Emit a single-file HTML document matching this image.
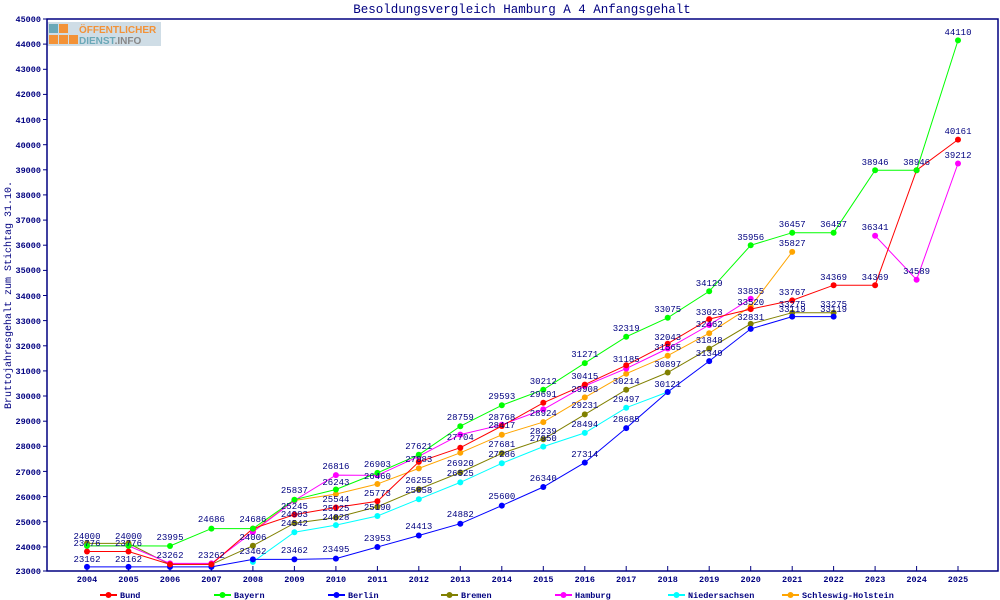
<!DOCTYPE html>
<html><head><meta charset="utf-8"><style>
body{margin:0;background:#fff}
svg{display:block}
text{font-family:"Liberation Mono","DejaVu Sans Mono",monospace;fill:#000080}
.l{font-size:9px;text-anchor:middle}
.t{font-size:8.5px;font-weight:bold}
</style></head><body>
<svg width="1000" height="600" viewBox="0 0 1000 600" xmlns="http://www.w3.org/2000/svg">
<rect width="1000" height="600" fill="#fff"/>
<text x="522" y="13" style="font-size:12.5px;text-anchor:middle">Besoldungsvergleich Hamburg A 4 Anfangsgehalt</text>
<text transform="translate(11,295) rotate(-90)" style="font-size:10px;text-anchor:middle">Bruttojahresgehalt zum Stichtag 31.10.</text>
<rect x="47" y="22" width="114" height="24" fill="#cfdde6"/>
<rect x="49" y="24" width="9" height="9" fill="#6aa8b8"/><rect x="59" y="24" width="9" height="9" fill="#f39237"/>
<rect x="49" y="35" width="9" height="9" fill="#f39237"/><rect x="59" y="35" width="9" height="9" fill="#f39237"/><rect x="69" y="35" width="9" height="9" fill="#f39237"/>
<text x="79" y="33" style="font-family:'Liberation Sans',sans-serif;font-size:10px;font-weight:bold;fill:#f39237">ÖFFENTLICHER</text>
<text x="79" y="44" style="font-family:'Liberation Sans',sans-serif;font-size:10px;font-weight:bold;fill:#6aa8b8">DIENST<tspan style="fill:#888">.INFO</tspan></text>
<rect x="47" y="19" width="951" height="552" fill="none" stroke="#000080" stroke-width="1.5"/>
<g stroke="#000080" stroke-width="1">
<line x1="43" y1="19" x2="47" y2="19"/><line x1="43" y1="44.1" x2="47" y2="44.1"/><line x1="43" y1="69.3" x2="47" y2="69.3"/><line x1="43" y1="94.4" x2="47" y2="94.4"/><line x1="43" y1="119.5" x2="47" y2="119.5"/><line x1="43" y1="144.7" x2="47" y2="144.7"/><line x1="43" y1="169.8" x2="47" y2="169.8"/><line x1="43" y1="194.9" x2="47" y2="194.9"/><line x1="43" y1="220.1" x2="47" y2="220.1"/><line x1="43" y1="245.2" x2="47" y2="245.2"/><line x1="43" y1="270.4" x2="47" y2="270.4"/><line x1="43" y1="295.5" x2="47" y2="295.5"/><line x1="43" y1="320.6" x2="47" y2="320.6"/><line x1="43" y1="345.8" x2="47" y2="345.8"/><line x1="43" y1="370.9" x2="47" y2="370.9"/><line x1="43" y1="396" x2="47" y2="396"/><line x1="43" y1="421.2" x2="47" y2="421.2"/><line x1="43" y1="446.3" x2="47" y2="446.3"/><line x1="43" y1="471.4" x2="47" y2="471.4"/><line x1="43" y1="496.6" x2="47" y2="496.6"/><line x1="43" y1="521.7" x2="47" y2="521.7"/><line x1="43" y1="546.9" x2="47" y2="546.9"/><line x1="43" y1="571" x2="47" y2="571"/>
<line x1="87" y1="566" x2="87" y2="571"/><line x1="128.5" y1="566" x2="128.5" y2="571"/><line x1="170" y1="566" x2="170" y2="571"/><line x1="211.4" y1="566" x2="211.4" y2="571"/><line x1="252.9" y1="566" x2="252.9" y2="571"/><line x1="294.4" y1="566" x2="294.4" y2="571"/><line x1="335.9" y1="566" x2="335.9" y2="571"/><line x1="377.4" y1="566" x2="377.4" y2="571"/><line x1="418.8" y1="566" x2="418.8" y2="571"/><line x1="460.3" y1="566" x2="460.3" y2="571"/><line x1="501.8" y1="566" x2="501.8" y2="571"/><line x1="543.3" y1="566" x2="543.3" y2="571"/><line x1="584.8" y1="566" x2="584.8" y2="571"/><line x1="626.2" y1="566" x2="626.2" y2="571"/><line x1="667.7" y1="566" x2="667.7" y2="571"/><line x1="709.2" y1="566" x2="709.2" y2="571"/><line x1="750.7" y1="566" x2="750.7" y2="571"/><line x1="792.2" y1="566" x2="792.2" y2="571"/><line x1="833.6" y1="566" x2="833.6" y2="571"/><line x1="875.1" y1="566" x2="875.1" y2="571"/><line x1="916.6" y1="566" x2="916.6" y2="571"/><line x1="958" y1="566" x2="958" y2="571"/>
</g>
<g text-anchor="end">
<text x="41" y="22" class="t">45000</text><text x="41" y="47" class="t">44000</text><text x="41" y="72" class="t">43000</text><text x="41" y="97" class="t">42000</text><text x="41" y="123" class="t">41000</text><text x="41" y="148" class="t">40000</text><text x="41" y="173" class="t">39000</text><text x="41" y="198" class="t">38000</text><text x="41" y="223" class="t">37000</text><text x="41" y="248" class="t">36000</text><text x="41" y="273" class="t">35000</text><text x="41" y="299" class="t">34000</text><text x="41" y="324" class="t">33000</text><text x="41" y="349" class="t">32000</text><text x="41" y="374" class="t">31000</text><text x="41" y="399" class="t">30000</text><text x="41" y="424" class="t">29000</text><text x="41" y="449" class="t">28000</text><text x="41" y="475" class="t">27000</text><text x="41" y="500" class="t">26000</text><text x="41" y="525" class="t">25000</text><text x="41" y="550" class="t">24000</text><text x="41" y="574" class="t">23000</text>
</g>
<g text-anchor="middle">
<text x="87" y="582" class="t">2004</text><text x="128.5" y="582" class="t">2005</text><text x="170" y="582" class="t">2006</text><text x="211.4" y="582" class="t">2007</text><text x="252.9" y="582" class="t">2008</text><text x="294.4" y="582" class="t">2009</text><text x="335.9" y="582" class="t">2010</text><text x="377.4" y="582" class="t">2011</text><text x="418.8" y="582" class="t">2012</text><text x="460.3" y="582" class="t">2013</text><text x="501.8" y="582" class="t">2014</text><text x="543.3" y="582" class="t">2015</text><text x="584.8" y="582" class="t">2016</text><text x="626.2" y="582" class="t">2017</text><text x="667.7" y="582" class="t">2018</text><text x="709.2" y="582" class="t">2019</text><text x="750.7" y="582" class="t">2020</text><text x="792.2" y="582" class="t">2021</text><text x="833.6" y="582" class="t">2022</text><text x="875.1" y="582" class="t">2023</text><text x="916.6" y="582" class="t">2024</text><text x="958" y="582" class="t">2025</text>
</g>
<g fill="none" stroke-width="1">
<polyline stroke="#00ffff" points="252.9,561.9 294.4,532.2 335.9,525.1 377.4,516 418.8,499.2 460.3,482.4 501.8,463.3 543.3,446.6 584.8,432.9 626.2,407.7 667.7,392"/>
<polyline stroke="#808000" points="87,543.4 128.5,543.4 170,564.4 211.4,564.4 252.9,545.7 294.4,523.2 335.9,517.6 377.4,506.7 418.8,489.2 460.3,472.5 501.8,453.3 543.3,439.3 584.8,414.4 626.2,389.7 667.7,372.5 709.2,348.6 750.7,323.9 792.2,312.7 833.6,312.7"/>
<polyline stroke="#0000ff" points="87,566.9 128.5,566.9 170,566.9 211.4,566.9 252.9,559.4 294.4,559.4 335.9,558.6 377.4,547 418.8,535.5 460.3,523.7 501.8,505.6 543.3,487 584.8,462.6 626.2,428.1 667.7,392 709.2,361.1 750.7,328.9 792.2,316.6 833.6,316.6"/>
<polyline stroke="#ffa500" points="252.9,530.8 294.4,500.5 335.9,494.1 377.4,484 418.8,468.4 460.3,452.8 501.8,434.8 543.3,422.1 584.8,397.4 626.2,373.7 667.7,355.7 709.2,333.2 750.7,306.6 792.2,251.9"/>
<polyline stroke="#ff00ff" points="87,545.9 128.5,545.9 170,563.4 211.4,563.4 252.9,532 294.4,500.5 335.9,475.1 377.4,475.4 418.8,456.3 460.3,434.6 501.8,424.8 543.3,409.4 584.8,385.9 626.2,368.6 667.7,348.5 709.2,325 750.7,298.7"/>
<polyline stroke="#ff00ff" points="875.1,235.7 916.6,279.7 958,163.5"/>
<polyline stroke="#ff0000" points="87,551.5 128.5,551.5 170,564.4 211.4,564.4 252.9,528.6 294.4,514.6 335.9,507.5 377.4,501.3 418.8,461.9 460.3,447.7 501.8,426 543.3,402.8 584.8,384.6 626.2,365.3 667.7,343.7 709.2,319.1 750.7,309.1 792.2,300.4 833.6,285.2 875.1,285.2 916.6,170.2 958,139.6"/>
<polyline stroke="#00ff00" points="87,545.9 128.5,545.9 170,546 211.4,528.6 252.9,528.6 294.4,499.7 335.9,489.5 377.4,472.9 418.8,454.8 460.3,426.2 501.8,405.3 543.3,389.7 584.8,363.1 626.2,336.8 667.7,317.8 709.2,291.3 750.7,245.3 792.2,232.7 833.6,232.7 875.1,170.2 916.6,170.2 958,40.4"/>
</g>
<g stroke="none">
<g fill="#00ffff"><circle cx="252.9" cy="561.9" r="3"/><circle cx="294.4" cy="532.2" r="3"/><circle cx="335.9" cy="525.1" r="3"/><circle cx="377.4" cy="516" r="3"/><circle cx="418.8" cy="499.2" r="3"/><circle cx="460.3" cy="482.4" r="3"/><circle cx="501.8" cy="463.3" r="3"/><circle cx="543.3" cy="446.6" r="3"/><circle cx="584.8" cy="432.9" r="3"/><circle cx="626.2" cy="407.7" r="3"/><circle cx="667.7" cy="392" r="3"/></g>
<g fill="#808000"><circle cx="87" cy="543.4" r="3"/><circle cx="128.5" cy="543.4" r="3"/><circle cx="170" cy="564.4" r="3"/><circle cx="211.4" cy="564.4" r="3"/><circle cx="252.9" cy="545.7" r="3"/><circle cx="294.4" cy="523.2" r="3"/><circle cx="335.9" cy="517.6" r="3"/><circle cx="377.4" cy="506.7" r="3"/><circle cx="418.8" cy="489.2" r="3"/><circle cx="460.3" cy="472.5" r="3"/><circle cx="501.8" cy="453.3" r="3"/><circle cx="543.3" cy="439.3" r="3"/><circle cx="584.8" cy="414.4" r="3"/><circle cx="626.2" cy="389.7" r="3"/><circle cx="667.7" cy="372.5" r="3"/><circle cx="709.2" cy="348.6" r="3"/><circle cx="750.7" cy="323.9" r="3"/><circle cx="792.2" cy="312.7" r="3"/><circle cx="833.6" cy="312.7" r="3"/></g>
<g fill="#0000ff"><circle cx="87" cy="566.9" r="3"/><circle cx="128.5" cy="566.9" r="3"/><circle cx="170" cy="566.9" r="3"/><circle cx="211.4" cy="566.9" r="3"/><circle cx="252.9" cy="559.4" r="3"/><circle cx="294.4" cy="559.4" r="3"/><circle cx="335.9" cy="558.6" r="3"/><circle cx="377.4" cy="547" r="3"/><circle cx="418.8" cy="535.5" r="3"/><circle cx="460.3" cy="523.7" r="3"/><circle cx="501.8" cy="505.6" r="3"/><circle cx="543.3" cy="487" r="3"/><circle cx="584.8" cy="462.6" r="3"/><circle cx="626.2" cy="428.1" r="3"/><circle cx="667.7" cy="392" r="3"/><circle cx="709.2" cy="361.1" r="3"/><circle cx="750.7" cy="328.9" r="3"/><circle cx="792.2" cy="316.6" r="3"/><circle cx="833.6" cy="316.6" r="3"/></g>
<g fill="#ffa500"><circle cx="252.9" cy="530.8" r="3"/><circle cx="294.4" cy="500.5" r="3"/><circle cx="335.9" cy="494.1" r="3"/><circle cx="377.4" cy="484" r="3"/><circle cx="418.8" cy="468.4" r="3"/><circle cx="460.3" cy="452.8" r="3"/><circle cx="501.8" cy="434.8" r="3"/><circle cx="543.3" cy="422.1" r="3"/><circle cx="584.8" cy="397.4" r="3"/><circle cx="626.2" cy="373.7" r="3"/><circle cx="667.7" cy="355.7" r="3"/><circle cx="709.2" cy="333.2" r="3"/><circle cx="750.7" cy="306.6" r="3"/><circle cx="792.2" cy="251.9" r="3"/></g>
<g fill="#ff00ff"><circle cx="87" cy="545.9" r="3"/><circle cx="128.5" cy="545.9" r="3"/><circle cx="170" cy="563.4" r="3"/><circle cx="211.4" cy="563.4" r="3"/><circle cx="252.9" cy="532" r="3"/><circle cx="294.4" cy="500.5" r="3"/><circle cx="335.9" cy="475.1" r="3"/><circle cx="377.4" cy="475.4" r="3"/><circle cx="418.8" cy="456.3" r="3"/><circle cx="460.3" cy="434.6" r="3"/><circle cx="501.8" cy="424.8" r="3"/><circle cx="543.3" cy="409.4" r="3"/><circle cx="584.8" cy="385.9" r="3"/><circle cx="626.2" cy="368.6" r="3"/><circle cx="667.7" cy="348.5" r="3"/><circle cx="709.2" cy="325" r="3"/><circle cx="750.7" cy="298.7" r="3"/><circle cx="875.1" cy="235.7" r="3"/><circle cx="916.6" cy="279.7" r="3"/><circle cx="958" cy="163.5" r="3"/></g>
<g fill="#ff0000"><circle cx="87" cy="551.5" r="3"/><circle cx="128.5" cy="551.5" r="3"/><circle cx="170" cy="564.4" r="3"/><circle cx="211.4" cy="564.4" r="3"/><circle cx="252.9" cy="528.6" r="3"/><circle cx="294.4" cy="514.6" r="3"/><circle cx="335.9" cy="507.5" r="3"/><circle cx="377.4" cy="501.3" r="3"/><circle cx="418.8" cy="461.9" r="3"/><circle cx="460.3" cy="447.7" r="3"/><circle cx="501.8" cy="426" r="3"/><circle cx="543.3" cy="402.8" r="3"/><circle cx="584.8" cy="384.6" r="3"/><circle cx="626.2" cy="365.3" r="3"/><circle cx="667.7" cy="343.7" r="3"/><circle cx="709.2" cy="319.1" r="3"/><circle cx="750.7" cy="309.1" r="3"/><circle cx="792.2" cy="300.4" r="3"/><circle cx="833.6" cy="285.2" r="3"/><circle cx="875.1" cy="285.2" r="3"/><circle cx="916.6" cy="170.2" r="3"/><circle cx="958" cy="139.6" r="3"/></g>
<g fill="#00ff00"><circle cx="87" cy="545.9" r="3"/><circle cx="128.5" cy="545.9" r="3"/><circle cx="170" cy="546" r="3"/><circle cx="211.4" cy="528.6" r="3"/><circle cx="252.9" cy="528.6" r="3"/><circle cx="294.4" cy="499.7" r="3"/><circle cx="335.9" cy="489.5" r="3"/><circle cx="377.4" cy="472.9" r="3"/><circle cx="418.8" cy="454.8" r="3"/><circle cx="460.3" cy="426.2" r="3"/><circle cx="501.8" cy="405.3" r="3"/><circle cx="543.3" cy="389.7" r="3"/><circle cx="584.8" cy="363.1" r="3"/><circle cx="626.2" cy="336.8" r="3"/><circle cx="667.7" cy="317.8" r="3"/><circle cx="709.2" cy="291.3" r="3"/><circle cx="750.7" cy="245.3" r="3"/><circle cx="792.2" cy="232.7" r="3"/><circle cx="833.6" cy="232.7" r="3"/><circle cx="875.1" cy="170.2" r="3"/><circle cx="916.6" cy="170.2" r="3"/><circle cx="958" cy="40.4" r="3"/></g>
</g>
<g>
<text x="87" y="539" class="l">24000</text><text x="87" y="546" class="l">23776</text><text x="87" y="562" class="l">23162</text>
<text x="128.5" y="539" class="l">24000</text><text x="128.5" y="546" class="l">23776</text><text x="128.5" y="562" class="l">23162</text>
<text x="170" y="540" class="l">23995</text><text x="170" y="558" class="l">23262</text><text x="211.4" y="522" class="l">24686</text><text x="211.4" y="558" class="l">23262</text>
<text x="252.9" y="522" class="l">24686</text><text x="252.9" y="540" class="l">24006</text><text x="252.9" y="554" class="l">23462</text>
<text x="294.4" y="493" class="l">25837</text><text x="294.4" y="509" class="l">25245</text><text x="294.4" y="517" class="l">24903</text><text x="294.4" y="526" class="l">24542</text><text x="294.4" y="553" class="l">23462</text>
<text x="335.9" y="469" class="l">26816</text><text x="335.9" y="485" class="l">26243</text><text x="335.9" y="502" class="l">25544</text><text x="335.9" y="511" class="l">25125</text><text x="335.9" y="520" class="l">24828</text><text x="335.9" y="552" class="l">23495</text>
<text x="377.4" y="467" class="l">26903</text><text x="377.4" y="479" class="l">26460</text><text x="377.4" y="496" class="l">25773</text><text x="377.4" y="510" class="l">25190</text><text x="377.4" y="541" class="l">23953</text>
<text x="418.8" y="449" class="l">27621</text><text x="418.8" y="462" class="l">27083</text><text x="418.8" y="483" class="l">26255</text><text x="418.8" y="493" class="l">25858</text><text x="418.8" y="529" class="l">24413</text>
<text x="460.3" y="420" class="l">28759</text><text x="460.3" y="440" class="l">27704</text><text x="460.3" y="466" class="l">26920</text><text x="460.3" y="476" class="l">26525</text><text x="460.3" y="517" class="l">24882</text>
<text x="501.8" y="399" class="l">29593</text><text x="501.8" y="420" class="l">28768</text><text x="501.8" y="428" class="l">28417</text><text x="501.8" y="447" class="l">27681</text><text x="501.8" y="457" class="l">27286</text><text x="501.8" y="499" class="l">25600</text>
<text x="543.3" y="384" class="l">30212</text><text x="543.3" y="397" class="l">29691</text><text x="543.3" y="416" class="l">28924</text><text x="543.3" y="434" class="l">28239</text><text x="543.3" y="441" class="l">27950</text><text x="543.3" y="481" class="l">26340</text>
<text x="584.8" y="357" class="l">31271</text><text x="584.8" y="379" class="l">30415</text><text x="584.8" y="392" class="l">29908</text><text x="584.8" y="408" class="l">29231</text><text x="584.8" y="427" class="l">28494</text><text x="584.8" y="457" class="l">27314</text>
<text x="626.2" y="331" class="l">32319</text><text x="626.2" y="362" class="l">31185</text><text x="626.2" y="384" class="l">30214</text><text x="626.2" y="402" class="l">29497</text><text x="626.2" y="422" class="l">28685</text>
<text x="667.7" y="312" class="l">33075</text><text x="667.7" y="340" class="l">32043</text><text x="667.7" y="350" class="l">31565</text><text x="667.7" y="367" class="l">30897</text><text x="667.7" y="387" class="l">30121</text>
<text x="709.2" y="286" class="l">34129</text><text x="709.2" y="315" class="l">33023</text><text x="709.2" y="327" class="l">32462</text><text x="709.2" y="343" class="l">31848</text><text x="709.2" y="356" class="l">31349</text>
<text x="750.7" y="240" class="l">35956</text><text x="750.7" y="294" class="l">33835</text><text x="750.7" y="305" class="l">33520</text><text x="750.7" y="320" class="l">32831</text>
<text x="792.2" y="227" class="l">36457</text><text x="792.2" y="246" class="l">35827</text><text x="792.2" y="295" class="l">33767</text><text x="792.2" y="307" class="l">33275</text><text x="792.2" y="312" class="l">33119</text>
<text x="833.6" y="227" class="l">36457</text><text x="833.6" y="280" class="l">34369</text><text x="833.6" y="307" class="l">33275</text><text x="833.6" y="312" class="l">33119</text>
<text x="875.1" y="165" class="l">38946</text><text x="875.1" y="230" class="l">36341</text><text x="875.1" y="280" class="l">34369</text>
<text x="916.6" y="165" class="l">38946</text><text x="916.6" y="274" class="l">34589</text>
<text x="958" y="35" class="l">44110</text><text x="958" y="134" class="l">40161</text><text x="958" y="158" class="l">39212</text>
</g>
<g stroke-width="2">
<line x1="100" y1="595" x2="117" y2="595" stroke="#ff0000"/><circle cx="108.5" cy="595" r="3" fill="#ff0000"/>
<line x1="214" y1="595" x2="231" y2="595" stroke="#00ff00"/><circle cx="222.5" cy="595" r="3" fill="#00ff00"/>
<line x1="328" y1="595" x2="345" y2="595" stroke="#0000ff"/><circle cx="336.5" cy="595" r="3" fill="#0000ff"/>
<line x1="441" y1="595" x2="458" y2="595" stroke="#808000"/><circle cx="449.5" cy="595" r="3" fill="#808000"/>
<line x1="555" y1="595" x2="572" y2="595" stroke="#ff00ff"/><circle cx="563.5" cy="595" r="3" fill="#ff00ff"/>
<line x1="668" y1="595" x2="685" y2="595" stroke="#00ffff"/><circle cx="676.5" cy="595" r="3" fill="#00ffff"/>
<line x1="782" y1="595" x2="799" y2="595" stroke="#ffa500"/><circle cx="790.5" cy="595" r="3" fill="#ffa500"/>
</g>
<g>
<text x="120" y="598" class="t">Bund</text><text x="234" y="598" class="t">Bayern</text><text x="348" y="598" class="t">Berlin</text><text x="461" y="598" class="t">Bremen</text><text x="575" y="598" class="t">Hamburg</text><text x="688" y="598" class="t">Niedersachsen</text><text x="802" y="598" class="t">Schleswig-Holstein</text>
</g>
</svg>
</body></html>
